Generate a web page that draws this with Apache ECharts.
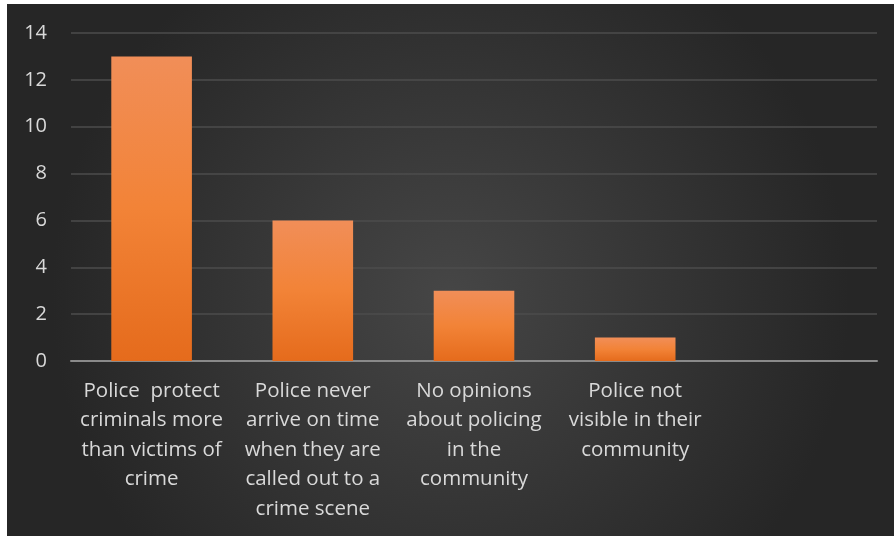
<!DOCTYPE html>
<html>
<head>
<meta charset="utf-8">
<script src="https://cdn.jsdelivr.net/npm/echarts@6/dist/echarts.min.js"></script>
<style>
  html, body { margin: 0; padding: 0; background: #ffffff; }
  #chart { position: absolute; left: 7px; top: 4px; width: 887px; height: 532px; }
</style>
</head>
<body>
<div id="chart"></div>
<script>
// Survey responses about policing
const categories = [
  'Police  protect\ncriminals more\nthan victims of\ncrime',
  'Police never\narrive on time\nwhen they are\ncalled out to a\ncrime scene',
  'No opinions\nabout policing\nin the\ncommunity',
  'Police not\nvisible in their\ncommunity',
  ''
];
const counts = [13, 6, 3, 1, null];
const yTicks = { min: 0, max: 14, interval: 2 };

const chart = echarts.init(document.getElementById('chart'));
chart.setOption({
  backgroundColor: {
    type: 'radial', x: 0.5, y: 0.55, r: 0.75,
    colorStops: [
      { offset: 0, color: '#464646' },
      { offset: 1, color: '#262626' }
    ]
  },
  grid: { left: 64, right: 17, top: 29, bottom: 175 },
  xAxis: {
    type: 'category',
    data: categories,
    axisTick: { show: false },
    axisLine: { lineStyle: { color: '#8a8a8a', width: 2 } },
    axisLabel: {
      interval: 0,
      color: '#d9d9d9',
      fontFamily: 'Open Sans',
      fontSize: 20.5,
      lineHeight: 29.5,
      margin: 15,
      align: 'center'
    }
  },
  yAxis: {
    type: 'value',
    min: yTicks.min, max: yTicks.max, interval: yTicks.interval,
    axisLine: { show: false },
    axisTick: { show: false },
    splitLine: { lineStyle: { color: '#4c4c4c', width: 1.5 } },
    axisLabel: {
      color: '#d9d9d9',
      fontFamily: 'Open Sans',
      fontSize: 20,
      margin: 24
    }
  },
  series: [{
    type: 'bar',
    data: counts,
    barWidth: '50%',
    itemStyle: {
      color: {
        type: 'linear', x: 0, y: 0, x2: 0, y2: 1,
        colorStops: [
          { offset: 0, color: '#f18e58' },
          { offset: 0.5, color: '#f28337' },
          { offset: 1, color: '#e56b1c' }
        ]
      },
      shadowColor: 'rgba(0,0,0,0.45)',
      shadowBlur: 6,
      shadowOffsetX: 2,
      shadowOffsetY: 0
    }
  }]
});
</script>
</body>
</html>
